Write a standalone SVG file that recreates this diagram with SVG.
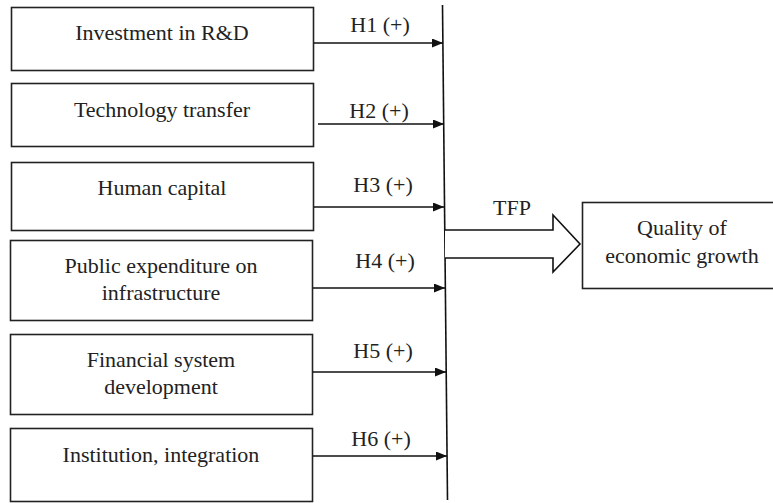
<svg xmlns="http://www.w3.org/2000/svg" width="773" height="503" viewBox="0 0 773 503">
<style>
.box{fill:#fff;stroke:#222;stroke-width:1.6}
.t{font-family:'Liberation Serif','Times New Roman','DejaVu Serif',serif;font-size:22px;fill:#222;text-anchor:middle}
.c{stroke:#111;stroke-width:1.6;fill:none}
</style>
<defs>
<marker id="ah" markerWidth="11" markerHeight="9" refX="11" refY="4.5" orient="auto" markerUnits="userSpaceOnUse">
<path d="M0,0 L11,4.5 L0,9 Z" fill="#111"/>
</marker>
</defs>
<rect width="773" height="503" fill="#fff"/>
<g id="n1"><rect class="box" x="11.5" y="7.5" width="302" height="63"/><text class="t" x="162" y="40">Investment in R&amp;D</text></g>
<g id="n2"><rect class="box" x="11.5" y="83.5" width="302" height="63"/><text class="t" x="162" y="117">Technology transfer</text></g>
<g id="n3"><rect class="box" x="11.5" y="162.5" width="302" height="68"/><text class="t" x="162" y="195">Human capital</text></g>
<g id="n4"><rect class="box" x="10.5" y="240.5" width="302" height="80"/><text class="t" x="161" y="273">Public expenditure on</text><text class="t" x="161" y="300">infrastructure</text></g>
<g id="n5"><rect class="box" x="10.5" y="334.5" width="302" height="80"/><text class="t" x="161" y="367">Financial system</text><text class="t" x="161" y="394">development</text></g>
<g id="n6"><rect class="box" x="10.5" y="428.5" width="302" height="73"/><text class="t" x="161" y="462">Institution, integration</text></g>
<g id="n7"><rect class="box" x="582.5" y="202.5" width="195" height="86"/><text class="t" x="682" y="235">Quality of</text><text class="t" x="682" y="263">economic growth</text></g>
<g id="connectors">
<line class="c" x1="442.5" y1="5" x2="447.5" y2="500"/>
<line class="c" x1="314" y1="43" x2="443" y2="43" marker-end="url(#ah)"/>
<line class="c" x1="318" y1="124" x2="444" y2="124" marker-end="url(#ah)"/>
<line class="c" x1="314" y1="207" x2="444" y2="207" marker-end="url(#ah)"/>
<line class="c" x1="313" y1="288" x2="445" y2="288" marker-end="url(#ah)"/>
<line class="c" x1="313" y1="372" x2="446" y2="372" marker-end="url(#ah)"/>
<line class="c" x1="313" y1="456" x2="447" y2="456" marker-end="url(#ah)"/>
<path d="M445,230 L553,230 L553,215 L580,244 L553,272 L553,258 L445,258" fill="#fff" stroke="#111" stroke-width="1.6" stroke-linejoin="miter"/>
<text class="t" x="380" y="32">H1 (+)</text>
<text class="t" x="379" y="118">H2 (+)</text>
<text class="t" x="383" y="192">H3 (+)</text>
<text class="t" x="385" y="268">H4 (+)</text>
<text class="t" x="383" y="358">H5 (+)</text>
<text class="t" x="381" y="446">H6 (+)</text>
<text class="t" x="512" y="215">TFP</text>
</g>
</svg>
